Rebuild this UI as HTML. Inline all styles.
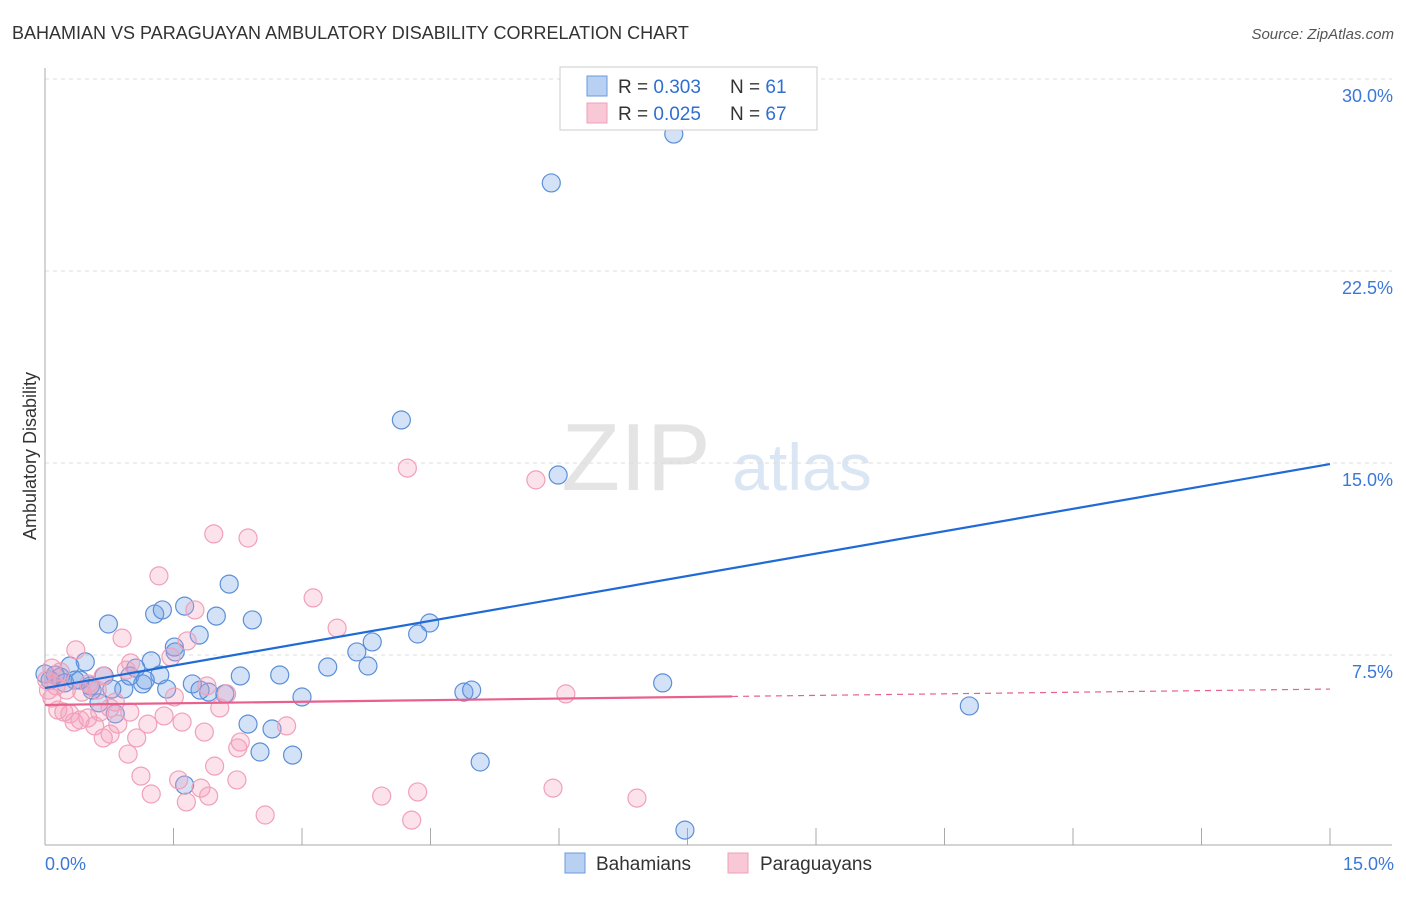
<!DOCTYPE html>
<html><head><meta charset="utf-8"><style>
body{margin:0;background:#fff;font-family:"Liberation Sans",sans-serif;}
svg text{font-family:"Liberation Sans",sans-serif;}
</style></head><body>
<svg id="chart" width="1406" height="892">
<text x="12" y="39" font-size="18" fill="#333">BAHAMIAN VS PARAGUAYAN AMBULATORY DISABILITY CORRELATION CHART</text>
<text x="1394" y="39" font-size="15" fill="#555" font-style="italic" text-anchor="end">Source: ZipAtlas.com</text>
<text x="36" y="456" font-size="18" fill="#333" text-anchor="middle" transform="rotate(-90 36 456)">Ambulatory Disability</text>
<g>
<text x="636" y="490" font-size="96" fill="#e4e4e4" text-anchor="middle" font-family="Liberation Serif">ZIP</text>
<text x="802" y="490" font-size="66" fill="#dbe6f4" text-anchor="middle">atlas</text>
</g>
<g id="grid"></g><g id="axes"></g><g id="pts"></g><g id="lines"></g>
<g>
<rect x="560" y="67" width="257" height="63" fill="#fff" stroke="#ccc"/>
<rect x="587" y="76" width="20" height="20" fill="#b8d0f2" stroke="#6a9ae0"/>
<rect x="587" y="103" width="20" height="20" fill="#f8c8d6" stroke="#f0a0b8"/>
<text x="618" y="93" font-size="19" fill="#333">R = <tspan fill="#2f6fd0">0.303</tspan></text>
<text x="730" y="93" font-size="19" fill="#333">N = <tspan fill="#2f6fd0">61</tspan></text>
<text x="618" y="120" font-size="19" fill="#333">R = <tspan fill="#2f6fd0">0.025</tspan></text>
<text x="730" y="120" font-size="19" fill="#333">N = <tspan fill="#2f6fd0">67</tspan></text>
</g>
<g>
<rect x="565" y="853" width="20" height="20" fill="#b8d0f2" stroke="#6a9ae0"/>
<text x="596" y="870" font-size="19" fill="#333">Bahamians</text>
<rect x="728" y="853" width="20" height="20" fill="#f8c8d6" stroke="#f0a0b8"/>
<text x="760" y="870" font-size="19" fill="#333">Paraguayans</text>
</g>
</svg>
<script>
const yTicks=[7.5,15,22.5,30];
const yTickLabels=["7.5%","15.0%","22.5%","30.0%"];
const xEndLabels=["0.0%","15.0%"];
const blueX=[7.34,5.91,4.16,5.99,0.74,2.15,1.28,1.37,1.63,2.00,2.42,4.49,4.35,3.82,1.80,1.51,1.52,3.64,3.77,3.30,1.24,0.47,0.29,0.12,0.00,0.18,0.35,0.69,1.06,1.34,2.28,2.74,1.14,0.92,0.78,1.42,1.72,1.91,2.10,3.00,4.89,4.98,7.21,10.79,0.55,0.63,0.82,2.37,2.65,2.51,2.89,5.08,1.63,7.47,0.06,0.23,0.53,0.99,1.17,1.81,0.41];
const blueY=[27.85,25.94,16.68,14.53,8.71,10.27,9.10,9.26,9.41,9.02,8.87,8.75,8.32,8.01,8.28,7.81,7.62,7.62,7.07,7.03,7.27,7.23,7.07,6.72,6.76,6.64,6.52,6.68,6.99,6.72,6.68,6.72,6.37,6.17,6.17,6.17,6.37,6.05,5.98,5.86,6.05,6.13,6.41,5.51,6.13,5.63,5.20,4.80,4.61,3.71,3.59,3.32,2.42,0.66,6.52,6.41,6.29,6.68,6.52,6.13,6.52];
const pinkX=[1.97,2.37,1.33,4.23,5.73,3.13,3.41,1.75,0.90,1.66,0.36,1.47,1.00,0.95,0.68,0.51,0.43,0.25,0.13,0.02,0.08,0.15,0.22,0.29,0.34,0.41,0.50,0.58,0.68,0.76,0.85,0.64,0.76,0.99,1.20,1.07,0.97,1.39,1.60,1.86,2.04,1.89,2.12,2.28,2.25,1.98,1.51,1.12,1.24,1.56,1.65,1.82,1.91,2.24,2.57,2.82,3.93,4.28,4.35,5.93,6.91,6.08,0.08,0.18,0.82,0.61,0.04];
const pinkY=[12.23,12.07,10.59,14.80,14.34,9.73,8.55,9.26,8.16,8.05,7.70,7.42,7.19,6.91,6.68,6.37,6.05,6.13,6.29,6.52,5.82,5.35,5.27,5.20,4.88,4.96,5.04,4.73,4.26,4.41,4.80,5.27,5.43,5.27,4.80,4.26,3.63,5.12,4.88,4.49,5.43,6.29,5.98,4.10,3.87,3.16,5.86,2.77,2.07,2.62,1.76,2.30,1.99,2.62,1.25,4.73,1.99,1.05,2.15,2.30,1.91,5.98,6.99,6.84,5.66,6.13,6.13];
const blueTrend=[6.21,14.96];
const pinkTrend=[5.55,6.17];
const pinkSolidEnd=8.02;
const X0=45,X1=1330,Y0=847;
const sx=v=>X0+v/15*(X1-X0);
const sy=v=>Y0-v*25.6;
const NS="http://www.w3.org/2000/svg";
function mk(parent,tag,attrs){const e=document.createElementNS(NS,tag);for(const k in attrs)e.setAttribute(k,attrs[k]);document.getElementById(parent).appendChild(e);return e;}
yTicks.forEach((t,i)=>{
  const g=mk('grid','line',{x1:45,x2:1392,y1:sy(t),y2:sy(t),stroke:'#ddd','stroke-dasharray':'4,4'});
  
  
  const l=mk('grid','text',{x:1393,y:sy(t)+23,'font-size':18,fill:'#3b78d8','text-anchor':'end'});
  l.textContent=yTickLabels[i];
  
  
});
const ax=mk('axes','line',{x1:45,x2:45,y1:68,y2:845,stroke:'#aaa'});


const bx=mk('axes','line',{x1:45,x2:1392,y1:845,y2:845,stroke:'#aaa'});


for(let i=0;i<=10;i++){
  const t=mk('axes','line',{x1:sx(i*1.5),x2:sx(i*1.5),y1:828,y2:845,stroke:'#aaa'});
  
  
}
const xl0=mk('axes','text',{x:45,y:870,'font-size':18,fill:'#3b78d8'});xl0.textContent=xEndLabels[0];


const xl1=mk('axes','text',{x:1394,y:870,'font-size':18,fill:'#3b78d8','text-anchor':'end'});xl1.textContent=xEndLabels[1];


blueX.forEach((x,i)=>{
  const c=mk('pts','circle',{cx:sx(x),cy:sy(blueY[i]),r:9,fill:'rgba(110,160,230,0.3)',stroke:'#5b8fd8','stroke-width':1.2});
  
  
});
pinkX.forEach((x,i)=>{
  const c=mk('pts','circle',{cx:sx(x),cy:sy(pinkY[i]),r:9,fill:'rgba(245,160,190,0.3)',stroke:'#f0a0b8','stroke-width':1.2});
  
  
});
const bl=mk('lines','line',{x1:sx(0),y1:sy(blueTrend[0]),x2:sx(15),y2:sy(blueTrend[1]),stroke:'#1f6ad6','stroke-width':2.2});


const pm=pinkTrend[0]+(pinkTrend[1]-pinkTrend[0])*pinkSolidEnd/15;
const pl=mk('lines','line',{x1:sx(0),y1:sy(pinkTrend[0]),x2:sx(pinkSolidEnd),y2:sy(pm),stroke:'#e8608e','stroke-width':2.2});


const pd=mk('lines','line',{x1:sx(pinkSolidEnd),y1:sy(pm),x2:sx(15),y2:sy(pinkTrend[1]),stroke:'#e8608e','stroke-width':1.2,'stroke-dasharray':'6,5'});


</script>
</body></html>
